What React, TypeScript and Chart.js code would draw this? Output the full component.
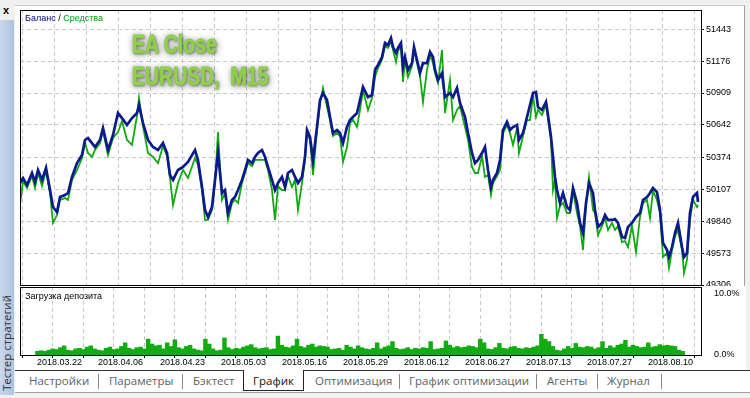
import React, { useEffect, useRef } from "react";
import { Chart, registerables } from "chart.js";

Chart.register(...registerables);

// ---- data ----
const tradeNo = [
  0, 3, 7, 12, 15, 18, 22, 26, 30, 33, 37, 40, 45, 48, 52, 57, 62, 65, 68, 72,
  75, 80, 83, 88, 93, 98, 102, 107, 112, 117, 119, 123, 128, 133, 138, 143, 147, 150, 153, 158,
  163, 168, 175, 178, 182, 185, 188, 192, 195, 198, 202, 205, 208, 212, 215, 218, 222, 225, 228, 232,
  235, 238, 242, 245, 248, 252, 255, 258, 262, 265, 268, 272, 275, 278, 282, 285, 287, 290, 293, 297,
  300, 303, 307, 310, 313, 317, 320, 323, 327, 330, 333, 337, 340, 343, 348, 352, 355, 358, 362, 365,
  368, 371, 373, 376, 378, 381, 383, 385, 388, 392, 394, 397, 400, 403, 407, 410, 413, 415, 418, 422,
  425, 430, 433, 437, 440, 445, 448, 452, 455, 458, 462, 465, 468, 471, 473, 477, 480, 483, 487, 490,
  493, 497, 499, 503, 507, 510, 513, 516, 518, 522, 526, 528, 531, 533, 535, 537, 540, 543, 547, 550,
  553, 557, 560, 563, 566, 569, 573, 575, 578, 582, 585, 588, 592, 595, 598, 602, 605, 608, 612, 616,
  620, 623, 627, 630, 633, 637, 640, 643, 647, 649, 652, 655, 658, 662, 664, 667, 670, 673, 677, 678,
];

const balance = [
  50158, 50199, 50141, 50241, 50166, 50266, 50183, 50283, 50099, 49957,
  49915, 50041, 50057, 50074, 50208, 50324, 50391, 50517, 50533, 50491,
  50458, 50517, 50617, 50433, 50558, 50742, 50700, 50642, 50700, 50742,
  50809, 50658, 50517, 50458, 50433, 50491, 50408, 50224, 50183, 50266,
  50291, 50333, 50433, 50350, 50124, 49932, 49874, 49957, 50183, 50408,
  50074, 50099, 49907, 50016, 50041, 50099, 50183, 50266, 50350, 50324,
  50375, 50408, 50433, 50375, 50291, 50183, 50099, 50158, 50208, 50124,
  50241, 50266, 50208, 50158, 50208, 50375, 50600, 50542, 50350, 50625,
  50850, 50909, 50850, 50709, 50575, 50600, 50575, 50491, 50625, 50683,
  50709, 50742, 50850, 50959, 50875, 50892, 51101, 51143, 51209, 51326,
  51310, 51368, 51293, 51243, 51285, 51326, 51126, 51209, 51101, 51159,
  51293, 51184, 51076, 51159, 51159, 51251, 51209, 51101, 51017, 51076,
  50875, 50909, 50875, 50951, 50825, 50709, 50575, 50408, 50324, 50350,
  50408, 50458, 50266, 50124, 50183, 50241, 50350, 50600, 50667, 50600,
  50625, 50642, 50517, 50575, 50709, 50809, 50909, 50917, 50792, 50767,
  50834, 50725, 50542, 50375, 50208, 50099, 49991, 50074, 49957, 49932,
  50116, 49991, 49824, 49740, 49991, 50158, 50074, 49932, 49790, 49824,
  49890, 49849, 49849, 49857, 49824, 49707, 49698, 49790, 49824, 49874,
  49907, 50016, 50041, 50074, 50116, 50082, 49932, 49657, 49598, 49540,
  49623, 49740, 49824, 49623, 49540, 49573, 49907, 50041, 50074, 49999,
];

const equity = [
  49974, 50174, 50116, 50216, 50116, 50241, 50132, 50258, 50074, 49824,
  49890, 50016, 50032, 50016, 50183, 50266, 50366, 50491, 50408, 50375,
  50433, 50491, 50592, 50391, 50533, 50583, 50675, 50517, 50475, 50717,
  50867, 50633, 50408, 50375, 50324, 50466, 50383, 50199, 49974, 50158,
  50266, 50199, 50366, 50308, 50099, 49849, 49849, 49932, 50158, 50583,
  50016, 50074, 49849, 49991, 50016, 49991, 50158, 50241, 50324, 50299,
  50350, 50350, 50350, 50350, 50266, 50099, 49849, 50132, 50099, 50099,
  50216, 50124, 50183, 49932, 50158, 50350, 50575, 50517, 50224, 50600,
  50825, 50951, 50792, 50683, 50550, 50575, 50550, 50333, 50458, 50658,
  50683, 50625, 50767, 50934, 50767, 50867, 51042, 51118, 51184, 51301,
  51285, 51343, 51268, 51168, 51259, 51301, 51001, 51184, 51042, 51134,
  51268, 51159, 51051, 50834, 51101, 51226, 51159, 51076, 50992, 51268,
  50742, 51017, 50683, 50767, 50800, 50625, 50517, 50291, 50241, 50241,
  50383, 50208, 50224, 50057, 50158, 50216, 50266, 50575, 50642, 50575,
  50475, 50617, 50408, 50550, 50683, 50683, 50884, 50709, 50767, 50725,
  50809, 50700, 50517, 50099, 50183, 49865, 49966, 49991, 49907, 49907,
  50091, 49907, 49799, 49598, 49966, 50208, 49932, 49907, 49723, 49799,
  49865, 49765, 49824, 49765, 49799, 49665, 49673, 49623, 49799, 49582,
  49874, 49991, 50016, 49865, 50091, 50016, 49907, 49540, 49573, 49448,
  49598, 49715, 49765, 49598, 49406, 49515, 49849, 50016, 49957, 49974,
];

// deposit load, %
const depositLoad = [
  0.6, 0.7, 0.6, 0.8, 1.0, 0.9, 1.2, 1.5, 0.8, 0.7,
  1.0, 1.1, 0.9, 1.3, 1.5, 1.0, 0.8, 0.7, 1.1, 1.3,
  0.9, 1.0, 1.4, 2.0, 1.1, 0.9, 1.2, 1.3, 1.0, 2.6,
  1.8, 1.5, 1.6, 1.0, 2.0, 1.4, 2.5, 1.2, 1.0, 1.4,
  1.6, 1.0, 0.8, 0.7, 2.6, 1.8, 1.0, 0.7, 0.8, 2.8,
  1.2, 0.9, 1.1, 1.0, 1.3, 1.5, 1.7, 1.2, 1.0, 1.1,
  1.2, 0.9, 1.0, 3.1, 1.6, 1.3, 1.2, 1.5, 2.6, 1.4,
  1.2, 1.6, 1.8, 1.3, 1.5, 1.4, 1.3, 0.9, 1.0, 1.1,
  0.8, 1.6, 1.3, 1.0, 1.5, 1.2, 1.0, 0.9, 1.1, 2.0,
  1.0, 1.3, 1.5, 2.2, 1.1, 0.9, 1.0, 1.2, 0.9, 1.1,
  1.0, 1.2, 1.1, 2.2, 0.9, 1.0, 1.1, 2.3, 1.6, 1.2,
  1.4, 1.2, 1.3, 1.5, 1.4, 1.2, 2.6, 2.0, 1.0, 0.9,
  1.2, 1.9, 1.1, 1.0, 1.3, 1.4, 1.1, 1.0, 1.2, 1.1,
  1.3, 1.5, 3.4, 2.6, 2.2, 1.4, 0.8, 0.7, 1.0, 1.4,
  1.1, 1.9, 1.3, 1.2, 1.4, 1.3, 1.0, 1.2, 2.2, 1.1,
  1.5, 1.2, 1.6, 1.8, 2.4, 1.3, 1.6, 1.4, 1.2, 1.3,
  2.0, 1.3, 1.4, 1.7, 1.5, 1.6, 1.5, 1.4, 0.8, 0.6,
];

const dateLabels = [
  "2018.03.22", "2018.04.06", "2018.04.23", "2018.05.03", "2018.05.16", "2018.05.29",
  "2018.06.12", "2018.06.27", "2018.07.13", "2018.07.27", "2018.08.10",
];
const balanceTicks = [49306, 49573, 49840, 50107, 50374, 50642, 50909, 51176, 51443];
const loadTicks = [0, 10];

const tabNames = ["Настройки", "Параметры", "Бэктест", "График", "Оптимизация", "График оптимизации", "Агенты", "Журнал"];

// ---- axis setup ----
const X_MIN = 0;
const X_MAX = 681;
const GRID_START = 2;
const GRID_STEP = 32;
const GRID_COUNT = 22;
const gridTicks = Array.from({ length: GRID_COUNT }, (_, i) => GRID_START + GRID_STEP * i);
const loadX = depositLoad.map((_, i) => 2 + 4 * i);

const BAL_COLOR = "#0c1a8c";
const EQ_COLOR = "#12a812";
const LOAD_COLOR = "#12ac12";
const GRID_COLOR = "#c8c8c8";
const FONT_FAMILY = "'Liberation Sans', Arial, sans-serif";
const AXIS_FONT = { family: FONT_FAMILY, size: 9 };

// ---- layout (pixels) ----
const tabLeft = [29, 109, 193, 253, 315, 409, 547, 607];
const sepLeft = [98, 182, 399, 536, 597, 661];

const framePlugin = {
  id: "frame",
  afterDraw(chart: any) {
    const { ctx, chartArea: a } = chart;
    const l = Math.round(a.left), t = Math.round(a.top), r = Math.round(a.right), b = Math.round(a.bottom);
    ctx.save();
    ctx.strokeStyle = "#000";
    ctx.lineWidth = 1;
    ctx.strokeRect(l + 0.5, t + 0.5, r - l, b - t);
    ctx.restore();
  },
};

const whiteBg = {
  id: "whiteBg",
  beforeDraw(chart: any) {
    const { ctx } = chart;
    ctx.save();
    ctx.fillStyle = "#fff";
    ctx.fillRect(16, 0, 730, chart.height);
    ctx.restore();
  },
};

// date labels: left-aligned at every second grid tick, below the axis
const dateLabelPlugin = {
  id: "dateLabels",
  afterDraw(chart: any) {
    const { ctx, chartArea: a, scales } = chart;
    ctx.save();
    ctx.fillStyle = "#000";
    ctx.font = `9px ${FONT_FAMILY}`;
    ctx.textAlign = "left";
    ctx.textBaseline = "top";
    dateLabels.forEach((lab, i) => {
      const x = scales.x.getPixelForValue(gridTicks[i * 2]);
      ctx.fillText(lab, Math.round(x), Math.round(a.bottom) + 3);
    });
    ctx.restore();
  },
};

export default function App() {
  const mainRef = useRef<HTMLCanvasElement>(null);
  const loadRef = useRef<HTMLCanvasElement>(null);

  useEffect(() => {
    const main = new Chart(mainRef.current as HTMLCanvasElement, {
      type: "line",
      data: {
        datasets: [
          {
            label: "Баланс",
            data: tradeNo.map((x, i) => ({ x, y: balance[i] })),
            borderColor: BAL_COLOR,
            borderWidth: 2.7,
            pointRadius: 0,
            tension: 0,
            order: 0,
          },
          {
            label: "Средства",
            data: tradeNo.map((x, i) => ({ x, y: equity[i] })),
            borderColor: EQ_COLOR,
            borderWidth: 1.8,
            pointRadius: 0,
            tension: 0,
            order: 1,
          },
        ],
      },
      options: {
        animation: false,
        responsive: false,
        events: [],
        layout: { padding: { left: 20, top: 10, right: 0, bottom: 1 }, autoPadding: false } as any,
        plugins: { legend: { display: false }, tooltip: { enabled: false } },
        scales: {
          x: {
            type: "linear",
            min: X_MIN,
            max: X_MAX,
            afterBuildTicks: (s: any) => { s.ticks = gridTicks.map((v) => ({ value: v })); },
            ticks: { display: false },
            grid: { color: GRID_COLOR, drawTicks: false, lineWidth: 1 },
            border: { display: false, dash: [4, 3] },
            afterFit: (s: any) => { s.height = 0; s.paddingLeft = 0; s.paddingRight = 0; },
          },
          y: {
            type: "linear",
            position: "right",
            min: 49306,
            max: 51602,
            afterBuildTicks: (s: any) => { s.ticks = balanceTicks.map((v) => ({ value: v })); },
            ticks: {
              autoSkip: false,
              color: "#000",
              font: AXIS_FONT,
              padding: 2,
              callback: (v: any) => String(v),
            },
            grid: { color: GRID_COLOR, tickLength: 3, tickColor: "#000", tickBorderDash: [], lineWidth: 1 } as any,
            border: { display: false, dash: [4, 3] },
            afterFit: (s: any) => { s.width = 49; s.paddingTop = 0; s.paddingBottom = 0; },
          },
        },
      } as any,
      plugins: [framePlugin],
    });

    const load = new Chart(loadRef.current as HTMLCanvasElement, {
      type: "bar",
      data: {
        datasets: [
          {
            label: "Загрузка депозита",
            data: loadX.map((x, i) => ({ x, y: depositLoad[i] })),
            backgroundColor: LOAD_COLOR,
            borderWidth: 0,
            barPercentage: 1,
            categoryPercentage: 1,
          } as any,
        ],
      },
      options: {
        animation: false,
        responsive: false,
        events: [],
        layout: { padding: { left: 20, top: 1, right: 0, bottom: 0 }, autoPadding: false } as any,
        plugins: { legend: { display: false }, tooltip: { enabled: false } },
        scales: {
          x: {
            type: "linear",
            min: X_MIN,
            max: X_MAX,
            afterBuildTicks: (s: any) => { s.ticks = gridTicks.map((v) => ({ value: v })); },
            ticks: { display: false },
            grid: { color: GRID_COLOR, tickLength: 3, tickColor: "#000", tickBorderDash: [], lineWidth: 1 } as any,
            border: { display: false, dash: [4, 3] },
            afterFit: (s: any) => { s.height = 15; s.paddingLeft = 0; s.paddingRight = 0; },
          },
          y: {
            type: "linear",
            position: "right",
            min: 0,
            max: 11.15,
            afterBuildTicks: (s: any) => { s.ticks = loadTicks.map((v) => ({ value: v })); },
            ticks: {
              autoSkip: false,
              color: "#000",
              font: AXIS_FONT,
              padding: 5,
              callback: (v: any) => Number(v).toFixed(1) + "%",
            },
            grid: { display: false },
            border: { display: false },
            afterFit: (s: any) => { s.width = 49; s.paddingTop = 0; s.paddingBottom = 0; },
          },
        },
      } as any,
      plugins: [whiteBg, framePlugin, dateLabelPlugin],
    });

    return () => {
      main.destroy();
      load.destroy();
    };
  }, []);

  const uiFont = "'Open Sans', 'Liberation Sans', Arial, sans-serif";

  return (
    <div
      style={{
        position: "absolute",
        left: 0,
        top: 0,
        width: 750,
        height: 398,
        background: "#f0f0f0",
        overflow: "hidden",
        fontFamily: FONT_FAMILY,
      }}
    >
      {/* white panel */}
      <div style={{ position: "absolute", left: 15, top: 5, width: 730, height: 365, background: "#fff", borderTop: "1px solid #c8c8c8", borderRight: "1px solid #a0a0a0", boxSizing: "border-box" }} />
      {/* tabs row */}
      <div style={{ position: "absolute", left: 15, top: 370, width: 735, height: 23, background: "#fff", borderTop: "1px solid #333", borderBottom: "1px solid #a0a0a0", boxSizing: "border-box" }} />
      <div style={{ position: "absolute", left: 243, top: 370, width: 61, height: 21, background: "#fff", borderLeft: "1px solid #222", borderRight: "1px solid #222", borderBottom: "1px solid #222", boxSizing: "border-box" }} />
      {tabNames.map((t, i) => (
        <div key={t} style={{ position: "absolute", left: tabLeft[i], top: 372, height: 18, lineHeight: "18px", fontFamily: uiFont, fontSize: 11.5, color: i === 3 ? "#111" : "#5f5f5f", whiteSpace: "nowrap" }}>{t}</div>
      ))}
      {sepLeft.map((x, i) => (
        <div key={i} style={{ position: "absolute", left: x, top: 374, width: 1, height: 15, background: "#8a8a8a" }} />
      ))}

      {/* left vertical strip */}
      <div style={{ position: "absolute", left: 0, top: 20, width: 14, height: 375, background: "linear-gradient(to right, #c9d8ec, #aec3e0)" }} />
      <div style={{ position: "absolute", left: 3, top: 4, fontSize: 11, fontWeight: "bold", lineHeight: "12px", color: "#000" }}>x</div>
      <div
        style={{
          position: "absolute",
          left: 0,
          top: 300,
          width: 14,
          height: 91,
          writingMode: "vertical-rl",
          transform: "rotate(180deg)",
          fontFamily: uiFont,
          fontSize: 11.5,
          lineHeight: "14px",
          color: "#333",
          whiteSpace: "nowrap",
        }}
      >
        Тестер стратегий
      </div>

      {/* charts */}
      <canvas ref={mainRef} width={750} height={286} style={{ position: "absolute", left: 0, top: 0, width: 750, height: 286 }} />
      <canvas ref={loadRef} width={750} height={84} style={{ position: "absolute", left: 0, top: 286, width: 750, height: 84 }} />

      {/* legend labels */}
      <div style={{ position: "absolute", left: 25, top: 13, fontSize: 9, lineHeight: "11px", whiteSpace: "nowrap" }}>
        <span style={{ color: "#000080" }}>Баланс</span>
        <span style={{ color: "#000" }}> / </span>
        <span style={{ color: "#00a000" }}>Средства</span>
      </div>
      <div style={{ position: "absolute", left: 25, top: 291, fontSize: 9, lineHeight: "11px", color: "#000", whiteSpace: "nowrap" }}>
        Загрузка депозита
      </div>

      {/* title overlay */}
      {["EA Close", "EURUSD,\u00a0\u00a0M15"].map((t, i) => (
        <div
          key={t}
          style={{
            position: "absolute",
            left: 132,
            top: 32 + i * 32,
            fontSize: 25,
            lineHeight: "25px",
            fontWeight: "bold",
            color: "#92d050",
            transform: "scaleX(0.78)",
            transformOrigin: "left top",
            whiteSpace: "nowrap",
            WebkitTextStroke: "0.9px #8ccc48",
            textShadow: "1px 1px 3px rgba(0,0,0,0.55), 0 0 8px rgba(0,0,0,0.4), 2px 3px 10px rgba(0,0,0,0.3)",
          } as any}
        >
          {t}
        </div>
      ))}
    </div>
  );
}
